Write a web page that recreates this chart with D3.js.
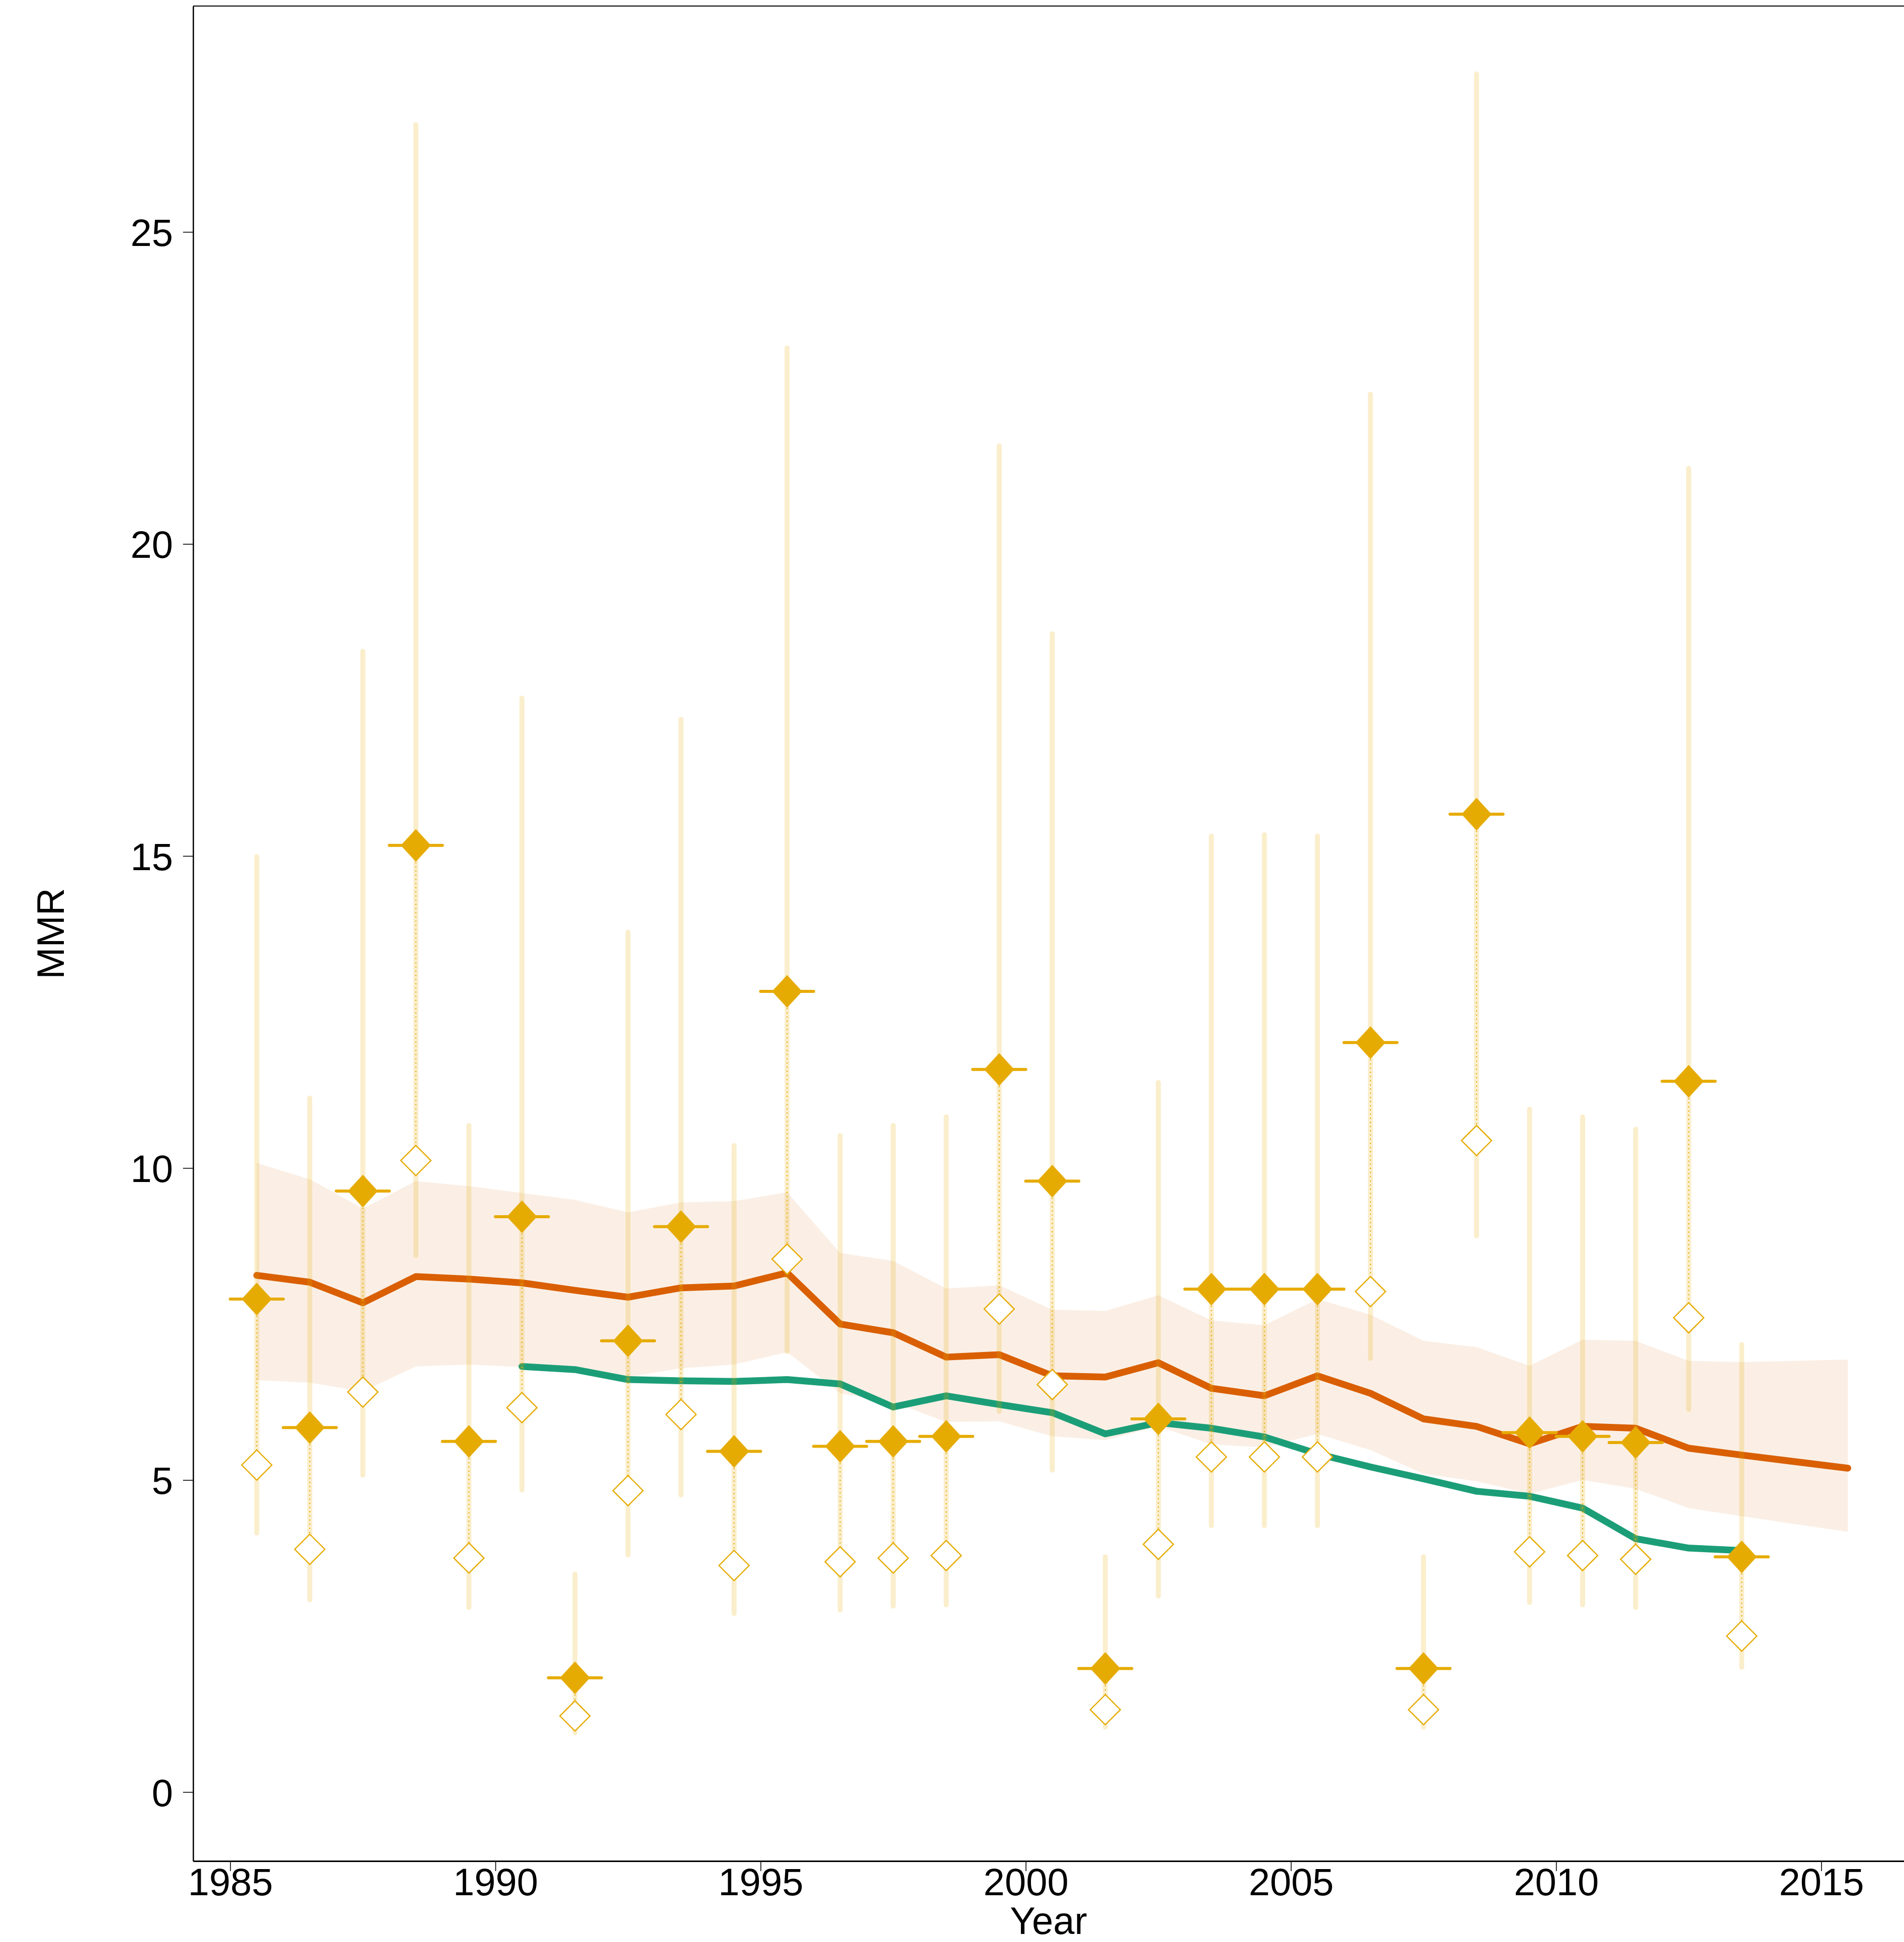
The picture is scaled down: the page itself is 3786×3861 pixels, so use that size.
<!DOCTYPE html>
<html>
<head>
<meta charset="utf-8">
<script src="https://cdn.jsdelivr.net/npm/d3@7"></script>
<style>
  html, body { margin: 0; padding: 0; background: #ffffff; }
  svg { display: block; }
  text { font-family: "Liberation Sans", Arial, sans-serif; fill: #000; }
</style>
</head>
<body>
<div id="chart"></div>
<script>
// ---------------- data ----------------
const years = [1985.5, 1986.5, 1987.5, 1988.5, 1989.5, 1990.5, 1991.5, 1992.5, 1993.5, 1994.5,
               1995.5, 1996.5, 1997.5, 1998.5, 1999.5, 2000.5, 2001.5, 2002.5, 2003.5, 2004.5,
               2005.5, 2006.5, 2007.5, 2008.5, 2009.5, 2010.5, 2011.5, 2012.5, 2013.5];
// observed MMR (filled diamonds)
const observed = [7.90, 5.84, 9.63, 15.17, 5.62, 9.22, 1.83, 7.23, 9.06, 5.46,
                  12.83, 5.54, 5.62, 5.70, 11.58, 9.79, 1.98, 5.98, 8.06, 8.06,
                  8.06, 12.01, 1.98, 15.67, 5.76, 5.70, 5.60, 11.39, 3.77];
// adjusted MMR (open diamonds)
const adjusted = [5.24, 3.89, 6.41, 10.12, 3.75, 6.16, 1.22, 4.83, 6.05, 3.63,
                  8.54, 3.69, 3.75, 3.79, 7.74, 6.53, 1.32, 3.97, 5.37, 5.37,
                  5.37, 8.02, 1.32, 10.44, 3.85, 3.79, 3.73, 7.60, 2.50];
// uncertainty interval of the data points
const ciLow  = [4.15, 3.08, 5.08, 8.60, 2.96, 4.84, 0.95, 3.80, 4.76, 2.86,
                7.06, 2.92, 2.98, 3.00, 6.10, 5.16, 1.04, 3.14, 4.27, 4.27,
                4.27, 6.95, 1.04, 8.91, 3.04, 3.00, 2.96, 6.13, 2.00];
const ciHigh = [14.99, 11.12, 18.28, 26.72, 10.68, 17.53, 3.49, 13.78, 17.19, 10.36,
                23.14, 10.52, 10.68, 10.82, 21.57, 18.56, 3.77, 11.37, 15.32, 15.34,
                15.32, 22.40, 3.77, 27.53, 10.94, 10.82, 10.62, 21.21, 7.17];

// model estimate (orange line) with band
const estYears = [1985.5, 1986.5, 1987.5, 1988.5, 1989.5, 1990.5, 1991.5, 1992.5, 1993.5, 1994.5,
                  1995.5, 1996.5, 1997.5, 1998.5, 1999.5, 2000.5, 2001.5, 2002.5, 2003.5, 2004.5,
                  2005.5, 2006.5, 2007.5, 2008.5, 2009.5, 2010.5, 2011.5, 2012.5, 2013.5, 2015.5];
const estimate = [8.28, 8.17, 7.84, 8.26, 8.22, 8.16, 8.04, 7.93, 8.08, 8.11,
                  8.32, 7.50, 7.36, 6.97, 7.01, 6.67, 6.65, 6.88, 6.47, 6.35,
                  6.67, 6.39, 5.98, 5.86, 5.58, 5.86, 5.83, 5.51, 5.40, 5.19];
const estUpper = [10.08, 9.82, 9.35, 9.79, 9.71, 9.60, 9.49, 9.29, 9.45, 9.47,
                  9.61, 8.64, 8.51, 8.07, 8.12, 7.73, 7.71, 7.96, 7.56, 7.48,
                  7.90, 7.65, 7.23, 7.13, 6.83, 7.25, 7.23, 6.91, 6.89, 6.93];
const estLower = [6.60, 6.56, 6.42, 6.82, 6.85, 6.81, 6.75, 6.65, 6.79, 6.85,
                  7.05, 6.39, 6.25, 5.93, 5.94, 5.70, 5.64, 5.86, 5.57, 5.52,
                  5.74, 5.48, 5.10, 4.98, 4.78, 5.00, 4.86, 4.55, 4.42, 4.17];

// second estimate (green line)
const greenYears = [1990.5, 1991.5, 1992.5, 1993.5, 1994.5, 1995.5, 1996.5, 1997.5, 1998.5, 1999.5,
                    2000.5, 2001.5, 2002.5, 2003.5, 2004.5, 2005.5, 2006.5, 2007.5, 2008.5, 2009.5,
                    2010.5, 2011.5, 2012.5, 2013.5];
const greenVals  = [6.82, 6.77, 6.61, 6.59, 6.58, 6.61, 6.54, 6.17, 6.35, 6.21,
                    6.08, 5.74, 5.92, 5.83, 5.69, 5.42, 5.21, 5.02, 4.82, 4.74,
                    4.55, 4.06, 3.91, 3.87];

const xTicks = [1985, 1990, 1995, 2000, 2005, 2010, 2015];
const yTicks = [0, 5, 10, 15, 20, 25];
const xLabel = "Year";
const yLabel = "MMR";

// ---------------- layout ----------------
const W = 3786, H = 3861;
const mLeft = 384, mRight = 3786, mTop = 12, mBottom = 3700;
const fontSize = 76;
const GOLD = "#E6AB02", ORANGE = "#D95F02", GREEN = "#1B9E77";

const x = d3.scaleLinear().domain([1984.30, 2016.56]).range([mLeft, mRight]);
const y = d3.scaleLinear().domain([-1.105, 28.62]).range([mBottom, mTop]);

const svg = d3.select("#chart").append("svg")
  .attr("width", W).attr("height", H).attr("viewBox", `0 0 ${W} ${H}`);

svg.append("rect").attr("width", W).attr("height", H).attr("fill", "#fff");

const plot = svg.append("g");

// band
const estData = estYears.map((yr, i) => ({yr, v: estimate[i], lo: estLower[i], hi: estUpper[i]}));
plot.append("path")
  .datum(estData)
  .attr("d", d3.area().x(d => x(d.yr)).y0(d => y(d.lo)).y1(d => y(d.hi)))
  .attr("fill", ORANGE).attr("fill-opacity", 0.1);

// orange line
plot.append("path")
  .datum(estData)
  .attr("d", d3.line().x(d => x(d.yr)).y(d => y(d.v)))
  .attr("fill", "none").attr("stroke", ORANGE).attr("stroke-width", 13.5)
  .attr("stroke-linecap", "round").attr("stroke-linejoin", "round");

// green line
const greenData = greenYears.map((yr, i) => ({yr, v: greenVals[i]}));
plot.append("path")
  .datum(greenData)
  .attr("d", d3.line().x(d => x(d.yr)).y(d => y(d.v)))
  .attr("fill", "none").attr("stroke", GREEN).attr("stroke-width", 13.5)
  .attr("stroke-linecap", "round").attr("stroke-linejoin", "round");

const pts = years.map((yr, i) => ({yr, obs: observed[i], adj: adjusted[i], lo: ciLow[i], hi: ciHigh[i]}));

// CI bars
plot.append("g").selectAll("line").data(pts).join("line")
  .attr("x1", d => x(d.yr)).attr("x2", d => x(d.yr))
  .attr("y1", d => y(d.lo)).attr("y2", d => y(d.hi))
  .attr("stroke", GOLD).attr("stroke-opacity", 0.2)
  .attr("stroke-width", 10).attr("stroke-linecap", "round");

// dotted connectors
plot.append("g").selectAll("line").data(pts).join("line")
  .attr("x1", d => x(d.yr)).attr("x2", d => x(d.yr))
  .attr("y1", d => y(d.obs)).attr("y2", d => y(d.adj))
  .attr("stroke", GOLD).attr("stroke-width", 2.2)
  .attr("stroke-dasharray", "2.2 6.1");

// horizontal period bars
plot.append("g").selectAll("line").data(pts).join("line")
  .attr("x1", d => x(d.yr - 0.5)).attr("x2", d => x(d.yr + 0.5))
  .attr("y1", d => y(d.obs)).attr("y2", d => y(d.obs))
  .attr("stroke", GOLD).attr("stroke-width", 6).attr("stroke-linecap", "round");

// diamond path helper
function diamond(cx, cy, hw, hh) {
  return `M${cx},${cy - hh}L${cx + hw},${cy}L${cx},${cy + hh}L${cx - hw},${cy}Z`;
}

// open diamonds (adjusted)
plot.append("g").selectAll("path").data(pts).join("path")
  .attr("d", d => diamond(x(d.yr), y(d.adj), 30, 30))
  .attr("fill", "#fff").attr("stroke", GOLD).attr("stroke-width", 2.4);

// filled diamonds (observed)
plot.append("g").selectAll("path").data(pts).join("path")
  .attr("d", d => diamond(x(d.yr), y(d.obs), 30, 32.5))
  .attr("fill", GOLD);

// ---------------- axes ----------------
// frame top line
svg.append("line")
  .attr("x1", mLeft).attr("x2", mRight).attr("y1", mTop).attr("y2", mTop)
  .attr("stroke", "#000").attr("stroke-width", 2);

const yAxis = svg.append("g").attr("transform", `translate(${mLeft},0)`)
  .call(d3.axisLeft(y).tickValues(yTicks).tickFormat(d3.format("d"))
        .tickSize(20).tickSizeOuter(0).tickPadding(20));
yAxis.select(".domain").attr("stroke", "#000").attr("stroke-width", 2.6);
yAxis.selectAll(".tick line").attr("stroke", "#000").attr("stroke-width", 1.6);
yAxis.selectAll(".tick text")
  .attr("font-size", fontSize).attr("font-family", "Liberation Sans, Arial, sans-serif")
  .attr("fill", "#000").attr("dy", "0.36em");

const xAxis = svg.append("g").attr("transform", `translate(0,${mBottom})`)
  .call(d3.axisBottom(x).tickValues(xTicks).tickFormat(d3.format("d"))
        .tickSize(20).tickSizeOuter(0));
xAxis.select(".domain").attr("stroke", "#000").attr("stroke-width", 3);
xAxis.selectAll(".tick line").attr("stroke", "#000").attr("stroke-width", 1.6);
xAxis.selectAll(".tick text")
  .attr("font-size", fontSize).attr("font-family", "Liberation Sans, Arial, sans-serif")
  .attr("fill", "#000").attr("y", 68).attr("dy", null);

// axis titles
svg.append("text")
  .attr("x", (mLeft + mRight) / 2).attr("y", 3845)
  .attr("text-anchor", "middle").attr("font-size", fontSize)
  .text(xLabel);

svg.append("text")
  .attr("transform", `translate(127,${(mTop + mBottom) / 2}) rotate(-90)`)
  .attr("text-anchor", "middle").attr("font-size", fontSize)
  .text(yLabel);
</script>
</body>
</html>
